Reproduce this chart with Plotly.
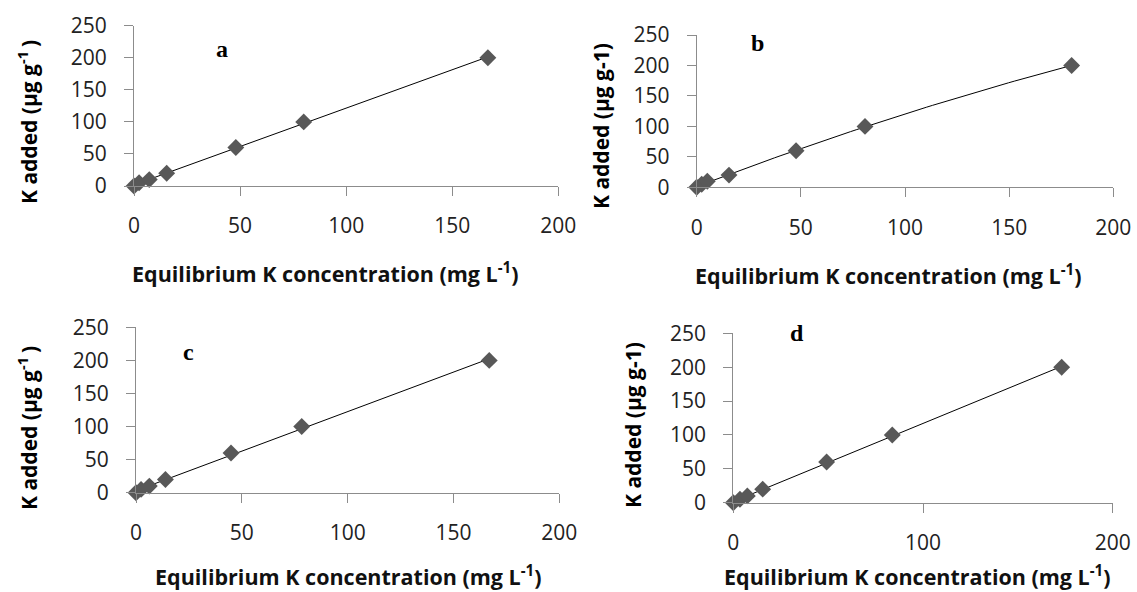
import numpy as np
import plotly.graph_objects as go

# Data
k_added = [0, 5, 10, 20, 60, 100, 200]
eq_a = [0, 2.4, 7.2, 15.4, 48, 80, 166.8]
eq_b = [0, 2.4, 5.1, 15.5, 47.7, 80.8, 180]
eq_c = [0, 2.4, 6.3, 13.9, 44.9, 78.3, 166.9]
eq_d = [0, 3.5, 7.4, 15.5, 49.2, 83.8, 173.1]
panel_labels = ["a", "b", "c", "d"]
x_title = "Equilibrium K concentration (mg L<sup>-1</sup>)"
y_titles = ["K added (μg g<sup>-1 </sup>)", "K added (μg g-1)",
            "K added (μg g<sup>-1 </sup>)", "K added (μg g-1)"]
fit_degree = [1, 2, 1, 1]

W, H = 1137, 592
def px(x): return x / W
def py(y): return 1 - y / H

# panel geometry in pixels: x0, x1, y_bottom, y_top
geo = [
    (134, 558.3, 186, 25.7),
    (696.7, 1113.3, 187.3, 35),
    (136, 559.3, 492.7, 327.3),
    (733.3, 1112.7, 502.7, 333.3),
]
xdticks = [50, 50, 50, 100]
label_pos = [(222, 49), (757, 43), (188, 352), (797, 333)]
ytitle_pos = [(27, 122), (601, 126), (27, 428), (633, 425)]
xtitle_pos = [(325, 272), (888, 275), (348, 575), (918, 575)]

fig = go.Figure()
series = [eq_a, eq_b, eq_c, eq_d]
axis_color = "#8c8c8c"
tick_font = dict(family="Open Sans", size=21, color="#222222")

for i, xs in enumerate(series):
    n = "" if i == 0 else str(i + 1)
    xa, ya = "x" + n, "y" + n
    coef = np.polyfit(xs, k_added, fit_degree[i])
    xf = np.linspace(min(xs) + 1, max(xs), 60)
    yf = np.polyval(coef, xf)
    fig.add_trace(go.Scatter(x=xf, y=yf, mode="lines", xaxis=xa, yaxis=ya,
                             line=dict(color="black", width=1), showlegend=False,
                             hoverinfo="skip"))
    fig.add_trace(go.Scatter(x=xs, y=k_added, mode="markers", xaxis=xa, yaxis=ya,
                             marker=dict(symbol="diamond", size=13, color="#585858",
                                         line=dict(width=0)),
                             cliponaxis=False, showlegend=False))
    x0, x1, yb, yt = geo[i]
    common = dict(showgrid=False, zeroline=False, showline=True, linecolor=axis_color,
                  linewidth=1, ticks="outside", tickcolor=axis_color, ticklen=9,
                  tickfont=tick_font, automargin=False)
    fig.update_layout(**{
        ("xaxis" + n): dict(domain=[px(x0), px(x1)], range=[0, 200], dtick=xdticks[i],
                            tick0=0, anchor=ya, ticklabelstandoff=12, **common),
        ("yaxis" + n): dict(domain=[py(yb), py(yt)], range=[0, 250], dtick=50,
                            tick0=0, anchor=xa, ticklabelstandoff=13, **common),
    })
    lx, ly = label_pos[i]
    fig.add_annotation(x=px(lx), y=py(ly), xref="paper", yref="paper",
                       xanchor="center", yanchor="middle",
                       text="<b>%s</b>" % panel_labels[i], showarrow=False,
                       font=dict(family="Liberation Serif", size=24, color="black"))
    tx, ty = ytitle_pos[i]
    fig.add_annotation(x=px(tx), y=py(ty), xref="paper", yref="paper",
                       xanchor="center", yanchor="middle",
                       text="<b>%s</b>" % y_titles[i], showarrow=False, textangle=-90,
                       font=dict(family="Open Sans", size=21, color="black"))
    tx, ty = xtitle_pos[i]
    fig.add_annotation(x=px(tx), y=py(ty), xref="paper", yref="paper",
                       xanchor="center", yanchor="middle",
                       text="<b>%s</b>" % x_title, showarrow=False,
                       font=dict(family="Open Sans", size=21.5, color="#111111"))

fig.update_layout(template="none", width=W, height=H,
                  margin=dict(l=0, r=0, t=0, b=0, pad=0),
                  paper_bgcolor="white", plot_bgcolor="white")
fig.write_html("out.html")
